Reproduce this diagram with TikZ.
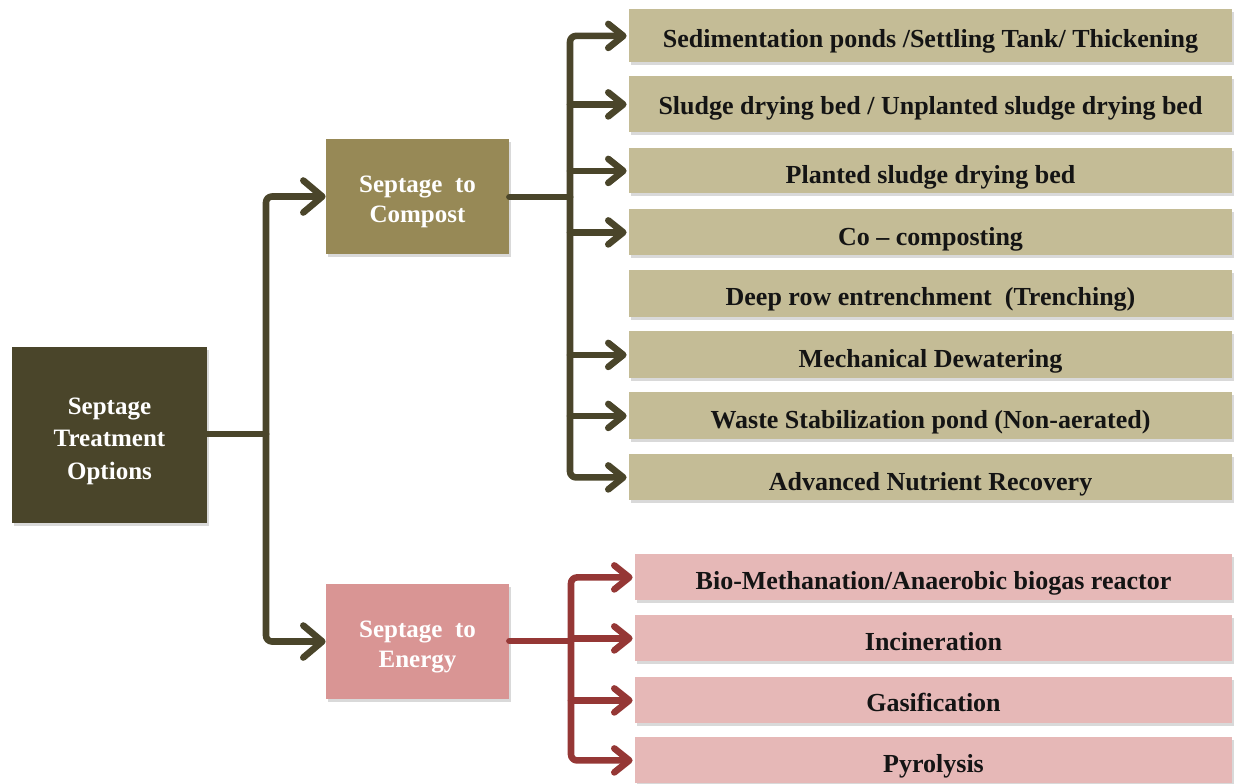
\documentclass[tikz,border=0pt]{standalone}
\usepackage{fontspec}
\setmainfont{Liberation Serif}
\usetikzlibrary{arrows.meta,shadows}
\definecolor{rootc}{RGB}{74,69,42}
\definecolor{compc}{RGB}{151,137,86}
\definecolor{leafc}{RGB}{196,188,150}
\definecolor{energc}{RGB}{217,149,148}
\definecolor{eleafc}{RGB}{230,184,183}
\definecolor{redc}{RGB}{149,55,53}
\definecolor{txtc}{RGB}{20,20,20}
\newcommand{\lowlines}[2]{\raisebox{-#1}[\height][\depth]{\begin{tabular}{@{}c@{}}#2\end{tabular}}}
\begin{document}
\begin{tikzpicture}[x=0.5pt,y=-0.5pt,
  box/.style={rectangle, inner sep=0pt, draw=none,
    drop shadow={shadow xshift=1pt, shadow yshift=-1.5pt, opacity=0.3}},
  rootbox/.style={box, fill=rootc, text=white,
    minimum width=97.5pt, minimum height=88pt,
    font=\bfseries\fontsize{12.5}{16.25}\selectfont},
  midbox/.style={box, text=white,
    minimum width=91.5pt, minimum height=57.5pt,
    font=\bfseries\fontsize{12.5}{15}\selectfont},
  leafbox/.style={box, fill=leafc, text=txtc, anchor=north,
    minimum width=301.5pt, font=\bfseries\fontsize{13}{15}\selectfont},
  eleafbox/.style={box, fill=eleafc, text=txtc, anchor=north,
    minimum width=298.5pt, font=\bfseries\fontsize{13}{15}\selectfont},
  conn/.style={line width=3.3pt, line join=round, line cap=round},
  roundturn/.style={rounded corners=3pt},
  bigtip/.style={-{Straight Barb[round,length=9.5pt,width=16pt]}},
  smalltip/.style={-{Straight Barb[round,length=7.5pt,width=12pt]}, shorten >=1pt}
]
\useasboundingbox (0,0) rectangle (1234,783);

% main nodes
\node[rootbox] (root) at (109.5,435) {\lowlines{2.5pt}{Septage\\Treatment\\Options}};
\node[midbox, fill=compc] (compost) at (417.5,196.5) {\lowlines{2.5pt}{Septage~ to\\Compost}};
\node[midbox, fill=energc] (energy) at (417.5,641.5) {\lowlines{2.5pt}{Septage~ to\\Energy}};

% compost leaves
\node[leafbox, text height=19pt, text depth=7.5pt] (l1) at (930.5,9) {Sedimentation ponds /Settling Tank/ Thickening};
\node[leafbox, text height=19pt, text depth=9pt] (l2) at (930.5,76) {Sludge drying bed / Unplanted sludge drying bed};
\node[leafbox, text height=17.5pt, text depth=5pt] (l3) at (930.5,148) {Planted sludge drying bed};
\node[leafbox, text height=18pt, text depth=5pt] (l4) at (930.5,209) {Co – composting};
\node[leafbox, text height=17.5pt, text depth=6pt] (l5) at (930.5,270) {Deep row entrenchment~ (Trenching)};
\node[leafbox, text height=18pt, text depth=5.5pt] (l6) at (930.5,331) {Mechanical Dewatering};
\node[leafbox, text height=18pt, text depth=5.5pt] (l7) at (930.5,392) {Waste Stabilization pond (Non-aerated)};
\node[leafbox, text height=18pt, text depth=5pt] (l8) at (930.5,454) {Advanced Nutrient Recovery};

% energy leaves
\node[eleafbox, text height=17.5pt, text depth=5.5pt] (e1) at (933.5,554) {Bio-Methanation/Anaerobic biogas reactor};
\node[eleafbox, text height=17.5pt, text depth=5.5pt] (e2) at (933.5,615) {Incineration};
\node[eleafbox, text height=17pt, text depth=6pt] (e3) at (933.5,677) {Gasification};
\node[eleafbox, text height=17.5pt, text depth=5.5pt] (e4) at (933.5,737) {Pyrolysis};

% junctions
\coordinate (rj) at (266,434);
\coordinate (cj) at (570,197);
\coordinate (ej) at (571,641);

% connectors from root
\draw[conn, rootc] (root.east |- rj) -- (rj);
\draw[conn, roundturn, rootc, bigtip] (rj) |- (compost.west);
\draw[conn, roundturn, rootc, bigtip] (rj) |- (energy.west);

% compost connectors
\draw[conn, rootc] (compost.east |- cj) -- (cj);
\draw[conn, roundturn, rootc, smalltip] (cj) |- (l1.west);
\draw[conn, roundturn, rootc, smalltip] (cj) |- (l8.west);
\foreach \n in {l2,l3,l4,l6,l7}
  \draw[conn, rootc, smalltip] (\n.west -| cj) -- (\n.west);

% energy connectors
\draw[conn, redc] (energy.east |- ej) -- (ej);
\draw[conn, roundturn, redc, smalltip] (ej) |- (e1.west);
\draw[conn, roundturn, redc, smalltip] (ej) |- (e4.west);
\foreach \n in {e2,e3}
  \draw[conn, redc, smalltip] (\n.west -| ej) -- (\n.west);
\end{tikzpicture}
\end{document}
